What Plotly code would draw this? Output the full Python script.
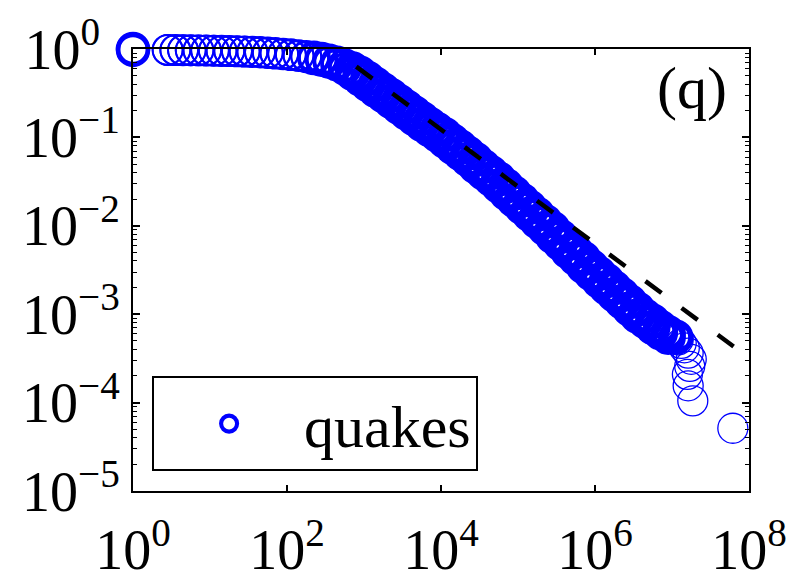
import plotly.graph_objects as go

# ---- data (log10 values) ----
# CCDF of earthquake sizes: each x column is plotted from its own CCDF value
# down to the next column's value (the stack of events sharing that size).
log_size = [0.00, 0.45, 0.55, 0.65, 0.75, 0.85, 0.95, 1.05, 1.15, 1.25, 1.35,
            1.45, 1.55, 1.65, 1.75, 1.85, 1.95, 2.05, 2.15, 2.25, 2.35, 2.45,
            2.55, 2.65, 2.75, 2.85, 2.95, 3.05, 3.15, 3.25, 3.35, 3.45, 3.55,
            3.65, 3.75, 3.85, 3.95, 4.05, 4.15, 4.25, 4.35, 4.45, 4.55, 4.65,
            4.75, 4.85, 4.95, 5.05, 5.15, 5.25, 5.35, 5.45, 5.55, 5.65, 5.75,
            5.85, 5.95, 6.05, 6.15, 6.25, 6.35, 6.45, 6.55, 6.65, 6.75, 6.85,
            6.95, 7.05]
log_ccdf = [0.000, -0.010, -0.012, -0.013, -0.014, -0.015, -0.016, -0.018,
            -0.020, -0.022, -0.024, -0.027, -0.030, -0.034, -0.039, -0.045,
            -0.052, -0.060, -0.069, -0.080, -0.093, -0.108, -0.126, -0.150,
            -0.180, -0.225, -0.275, -0.335, -0.400, -0.465, -0.525, -0.590,
            -0.655, -0.720, -0.785, -0.850, -0.910, -0.970, -1.040, -1.110,
            -1.180, -1.250, -1.330, -1.400, -1.470, -1.550, -1.630, -1.710,
            -1.790, -1.870, -1.950, -2.030, -2.120, -2.200, -2.290, -2.370,
            -2.460, -2.540, -2.620, -2.700, -2.780, -2.860, -2.940, -3.020,
            -3.080, -3.150, -3.210, -3.260]
# largest events (sparse tail)
tail_log_size = [7.08, 7.12, 7.16, 7.21, 7.25, 7.23, 7.20, 7.21, 7.27, 7.79]
tail_log_ccdf = [-3.29, -3.33, -3.38, -3.44, -3.51, -3.59, -3.68, -3.81, -3.98, -4.29]

# power-law fit (dashed)
fit_size = [794, 6.31e7]
fit_ccdf = [0.631, 4.31e-4]

x_tick_vals = [1, 1e2, 1e4, 1e6, 1e8]
x_tick_text = ["10<sup>0</sup>", "10<sup>2</sup>", "10<sup>4</sup>",
               "10<sup>6</sup>", "10<sup>8</sup>"]
y_tick_vals = [1, 1e-1, 1e-2, 1e-3, 1e-4, 1e-5]
y_tick_text = ["10<sup>0\u00a0\u00a0</sup>", "10<sup>\u22121</sup>",
               "10<sup>\u22122</sup>", "10<sup>\u22123</sup>",
               "10<sup>\u22124</sup>", "10<sup>\u22125</sup>"]

series_name = "quakes"
panel_label = "(q)"

# ---- build point list ----
xs, ys = [], []
for i in range(len(log_size)):
    xs.append(10 ** log_size[i])
    ys.append(10 ** log_ccdf[i])
    if i + 1 < len(log_size):
        xs.append(10 ** log_size[i])
        ys.append(10 ** log_ccdf[i + 1])
for lx, ly in zip(tail_log_size, tail_log_ccdf):
    xs.append(10 ** lx)
    ys.append(10 ** ly)

line_w = []
for x in xs:
    if x < 1.5:
        line_w.append(4.5)
    elif x < 200:
        line_w.append(1.9)
    elif x < 600:
        line_w.append(3.5)
    elif x < 1.2e7:
        line_w.append(5.5)
    else:
        line_w.append(1.3)

FONT = "Liberation Serif"
BLUE = "#0000FF"

fig = go.Figure()
fig.add_trace(go.Scatter(
    x=xs, y=ys, mode="markers", name=series_name, cliponaxis=False,
    marker=dict(symbol="circle-open", size=30, color=BLUE,
                line=dict(color=BLUE, width=line_w)),
))
fig.add_trace(go.Scatter(
    x=fit_size, y=fit_ccdf, mode="lines", showlegend=False,
    line=dict(color="black", width=4.5, dash="20px,25px"),
))

fig.update_layout(
    width=790, height=563,
    margin=dict(l=125, r=49, t=41, b=80, autoexpand=False),
    paper_bgcolor="white", plot_bgcolor="white",
    font=dict(family=FONT, size=56, color="black"),
    showlegend=True,
    legend=dict(
        x=0.031, y=0.045, xanchor="left", yanchor="bottom",
        bgcolor="white", bordercolor="black", borderwidth=2,
        font=dict(family=FONT, size=60, color="black"),
        itemwidth=140,
    ),
    annotations=[dict(
        text=panel_label, xref="paper", yref="paper", x=0.9075, y=0.912,
        xanchor="center", yanchor="middle", showarrow=False,
        font=dict(family=FONT, size=60, color="black"),
    )],
)

fig.update_xaxes(
    type="log", range=[0, 8], tickvals=x_tick_vals, ticktext=x_tick_text,
    ticks="inside", ticklen=6, tickwidth=1.5, tickcolor="black",
    showline=True, linewidth=2, linecolor="black", mirror="allticks",
    showgrid=False, zeroline=False, ticklabelstandoff=9, automargin=False,
    tickfont=dict(family=FONT, size=56, color="black"),
)
fig.update_yaxes(
    type="log", range=[-5, 0], tickvals=y_tick_vals, ticktext=y_tick_text,
    ticks="inside", ticklen=7, tickwidth=1.5, tickcolor="black",
    minor=dict(ticks="inside", ticklen=4, tickwidth=1, tickcolor="black",
               showgrid=False, dtick="D1"),
    showline=True, linewidth=2, linecolor="black", mirror="allticks",
    showgrid=False, zeroline=False, ticklabelstandoff=0, automargin=False,
    tickfont=dict(family=FONT, size=56, color="black"),
)

fig.write_html("out.html")
